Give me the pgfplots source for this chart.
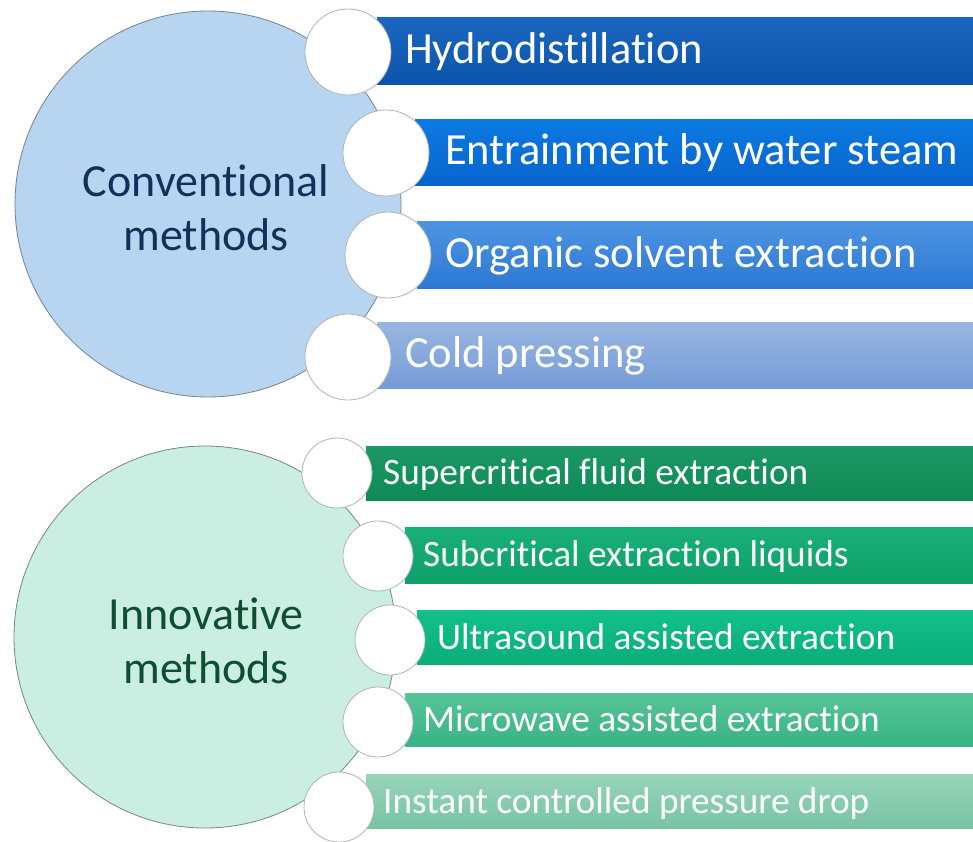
\documentclass[border=0pt]{standalone}
\usepackage{pgfplots}
\pgfplotsset{compat=1.18}
\usepackage{fontspec}
\setmainfont{Carlito}[Ligatures={NoCommon}]
\definecolor{bigblue}{RGB}{183,213,240}
\definecolor{biggreen}{RGB}{202,238,225}
\definecolor{navytxt}{RGB}{16,50,88}
\definecolor{greentxt}{RGB}{14,78,50}
\definecolor{ringgray}{RGB}{120,132,140}
\definecolor{smallgray}{RGB}{175,180,185}
\definecolor{btA}{RGB}{28,102,192}\definecolor{bbA}{RGB}{10,84,170}
\definecolor{btB}{RGB}{12,122,226}\definecolor{bbB}{RGB}{6,100,204}
\definecolor{btC}{RGB}{78,148,226}\definecolor{bbC}{RGB}{44,120,210}
\definecolor{btD}{RGB}{152,182,226}\definecolor{bbD}{RGB}{118,155,214}
\definecolor{gtA}{RGB}{28,152,102}\definecolor{gbA}{RGB}{14,138,86}
\definecolor{gtB}{RGB}{26,176,122}\definecolor{gbB}{RGB}{14,160,104}
\definecolor{gtC}{RGB}{18,192,138}\definecolor{gbC}{RGB}{10,174,120}
\definecolor{gtD}{RGB}{88,196,152}\definecolor{gbD}{RGB}{56,180,132}
\definecolor{gtE}{RGB}{152,212,186}\definecolor{gbE}{RGB}{120,196,164}
\begin{document}
\begin{tikzpicture}
\begin{axis}[
  width=973pt, height=832pt, scale only axis,
  xmin=0, xmax=973, ymin=0, ymax=832, y dir=reverse,
  hide axis, clip mode=individual,
]
% background
\addplot[draw=none, fill=white] coordinates {(0,0) (973,0) (973,832) (0,832)};
% big circles
\addplot[only marks, mark=*, mark size=193pt, mark options={fill=bigblue, draw=ringgray, line width=0.8pt}] coordinates {(208,204)};
\addplot[only marks, mark=*, mark size=191pt, mark options={fill=biggreen, draw=ringgray, line width=0.8pt}] coordinates {(205,637)};
% top bars
\addplot[draw=none, top color=btA, bottom color=bbA] coordinates {(377,18) (973,18) (973,85) (377,85)};
\addplot[draw=none, top color=btB, bottom color=bbB] coordinates {(415,120) (973,120) (973,186) (415,186)};
\addplot[draw=none, top color=btC, bottom color=bbC] coordinates {(417,222) (973,222) (973,288) (417,288)};
\addplot[draw=none, top color=btD, bottom color=bbD] coordinates {(377,322) (973,322) (973,388) (377,388)};
% bottom bars
\addplot[draw=none, top color=gtA, bottom color=gbA] coordinates {(366,446) (973,446) (973,500) (366,500)};
\addplot[draw=none, top color=gtB, bottom color=gbB] coordinates {(405,527) (973,527) (973,583) (405,583)};
\addplot[draw=none, top color=gtC, bottom color=gbC] coordinates {(417,610) (973,610) (973,664) (417,664)};
\addplot[draw=none, top color=gtD, bottom color=gbD] coordinates {(405,693) (973,693) (973,746) (405,746)};
\addplot[draw=none, top color=gtE, bottom color=gbE] coordinates {(366,774) (973,774) (973,828) (366,828)};
% small circles
\addplot[only marks, mark=*, mark size=43pt, mark options={fill=white, draw=smallgray, line width=0.8pt}] coordinates {(348,52) (386,153) (388,255) (348,357)};
\addplot[only marks, mark=*, mark size=35pt, mark options={fill=white, draw=smallgray, line width=0.8pt}] coordinates {(337,473) (378,556) (390,640) (378,722) (339,807)};
% circle labels
\node[align=center, text=navytxt, font=\fontsize{46}{54}\selectfont, inner sep=0pt] at (axis cs:206,208) {Conventional\\methods};
\node[align=center, text=greentxt, font=\fontsize{46}{54}\selectfont, inner sep=0pt] at (axis cs:206,641) {Innovative\\methods};
% bar labels
\begin{scope}[every node/.style={anchor=base west, inner sep=0pt, text=white}]
\node[font=\fontsize{44.5}{44}\selectfont] at (axis cs:405,64) {Hydrodistillation};
\node[font=\fontsize{44.5}{44}\selectfont] at (axis cs:445,165) {Entrainment by water steam};
\node[font=\fontsize{44.5}{44}\selectfont] at (axis cs:445,267) {Organic solvent extraction};
\node[font=\fontsize{44.5}{44}\selectfont] at (axis cs:405,367) {Cold pressing};
\node[font=\fontsize{37.3}{37}\selectfont] at (axis cs:383,484) {Supercritical fluid extraction};
\node[font=\fontsize{37.3}{37}\selectfont] at (axis cs:423,566) {Subcritical extraction liquids};
\node[font=\fontsize{37.3}{37}\selectfont] at (axis cs:437,649) {Ultrasound assisted extraction};
\node[font=\fontsize{37.3}{37}\selectfont] at (axis cs:423,731) {Microwave assisted extraction};
\node[font=\fontsize{37.3}{37}\selectfont] at (axis cs:383,813) {Instant controlled pressure drop};
\end{scope}
\end{axis}
\end{tikzpicture}
\end{document}
